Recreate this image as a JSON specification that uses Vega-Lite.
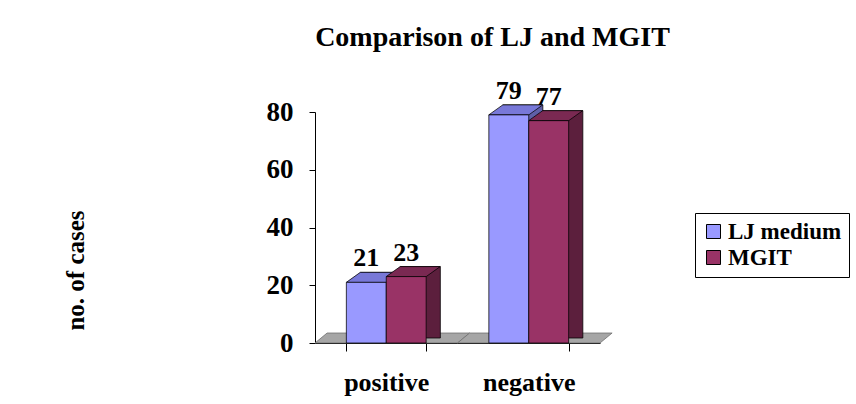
{
  "$schema": "https://vega.github.io/schema/vega-lite/v6.json",
  "autosize": {"type": "none"},
  "width": 285,
  "height": 231,
  "padding": {"left": 315, "top": 112, "right": 256, "bottom": 61},
  "background": "white",
  "config": {
    "font": "Liberation Serif",
    "view": {"stroke": null}
  },
  "title": {
    "text": "Comparison of LJ and MGIT",
    "fontSize": 28,
    "fontWeight": "bold",
    "color": "black",
    "anchor": "middle",
    "frame": "group",
    "offset": 26,
    "dx": 35
  },
  "data": {
    "values": [
      {"result": "positive", "method": "LJ medium", "cases": 21},
      {"result": "positive", "method": "MGIT", "cases": 23},
      {"result": "negative", "method": "LJ medium", "cases": 79},
      {"result": "negative", "method": "MGIT", "cases": 77}
    ]
  },
  "encoding": {
    "x": {
      "field": "result",
      "type": "nominal",
      "sort": ["positive", "negative"],
      "scale": {"paddingInner": 0.44, "paddingOuter": 0.22},
      "axis": {
        "title": null,
        "labelAngle": 0,
        "labelFontSize": 26,
        "labelFontWeight": "bold",
        "labelColor": "black",
        "labelPadding": 18,
        "domainColor": "black",
        "tickColor": "black",
        "tickSize": 8,
        "tickBand": "extent"
      }
    },
    "y": {
      "field": "cases",
      "type": "quantitative",
      "scale": {"domain": [0, 80], "nice": false},
      "axis": {
        "values": [0, 20, 40, 60, 80],
        "grid": false,
        "title": "no. of cases",
        "titleFontSize": 25,
        "titleFontWeight": "bold",
        "titleColor": "black",
        "titleAngle": -90,
        "titleX": -240,
        "titleY": 158,
        "titleAlign": "center",
        "titleBaseline": "middle",
        "labelFontSize": 27,
        "labelFontWeight": "bold",
        "labelColor": "black",
        "labelPadding": 16,
        "domainColor": "black",
        "tickColor": "black",
        "tickSize": 6
      }
    }
  },
  "layer": [
    {
      "transform": [{"filter": "datum.method === 'LJ medium'"}],
      "mark": {
        "type": "point",
        "shape": "M -1 0 L 1 0 L 1.17 -0.14 L -0.83 -0.14 Z",
        "size": 20306,
        "filled": true,
        "fill": "#a6a6a6",
        "stroke": "#707070",
        "strokeWidth": 0.8,
        "opacity": 1
      },
      "encoding": {
        "y": {"datum": 0}
      }
    },
    {
      "mark": {
        "type": "bar",
        "yOffset": -10,
        "y2Offset": -5,
        "stroke": "black",
        "strokeWidth": 0.75
      },
      "encoding": {
        "xOffset": {
          "field": "method",
          "type": "nominal",
          "sort": ["LJ medium", "MGIT"],
          "scale": {"range": [14, 94], "paddingInner": 0, "paddingOuter": 0}
        },
        "y2": {"datum": 0},
        "color": {
          "field": "method",
          "type": "nominal",
          "scale": {"domain": ["LJ medium", "MGIT"], "range": ["#5f5fa8", "#5c1f3d"]},
          "legend": null
        }
      }
    },
    {
      "layer": [
        {
          "mark": {
            "type": "point",
            "shape": "M -1 0 L 1 0 L 1.7 -0.5 L -0.3 -0.5 Z",
            "size": 1600,
            "filled": true,
            "stroke": "black",
            "strokeWidth": 0.75,
            "opacity": 1
          },
          "encoding": {
            "color": {
              "field": "method",
              "type": "nominal",
              "scale": {"domain": ["LJ medium", "MGIT"], "range": ["#7878d8", "#7a2952"]},
              "legend": null
            }
          }
        },
        {
          "mark": {"type": "bar", "stroke": "black", "strokeWidth": 0.75},
          "encoding": {
            "color": {
              "field": "method",
              "type": "nominal",
              "scale": {"domain": ["LJ medium", "MGIT"], "range": ["#9999ff", "#993366"]},
              "legend": {
                "title": null,
                "orient": "none",
                "legendX": 380,
                "legendY": 101,
                "fillColor": "white",
                "strokeColor": "black",
                "padding": 7,
                "symbolType": "square",
                "symbolSize": 196,
                "symbolStrokeColor": "black",
                "symbolStrokeWidth": 1,
                "symbolOpacity": 1,
                "labelFontSize": 23,
                "labelFontWeight": "bold",
                "labelColor": "black",
                "labelOffset": 3,
                "rowPadding": 2
              }
            }
          }
        },
        {
          "mark": {
            "type": "text",
            "fontSize": 26,
            "fontWeight": "bold",
            "color": "black",
            "baseline": "alphabetic",
            "dy": -16
          },
          "encoding": {
            "text": {"field": "cases", "type": "quantitative"}
          }
        }
      ],
      "encoding": {
        "xOffset": {
          "field": "method",
          "type": "nominal",
          "sort": ["LJ medium", "MGIT"],
          "scale": {"paddingInner": 0, "paddingOuter": 0}
        }
      },
      "resolve": {"scale": {"color": "independent"}, "legend": {"color": "independent"}}
    }
  ],
  "resolve": {"scale": {"color": "independent", "xOffset": "independent"}, "legend": {"color": "independent"}}
}
